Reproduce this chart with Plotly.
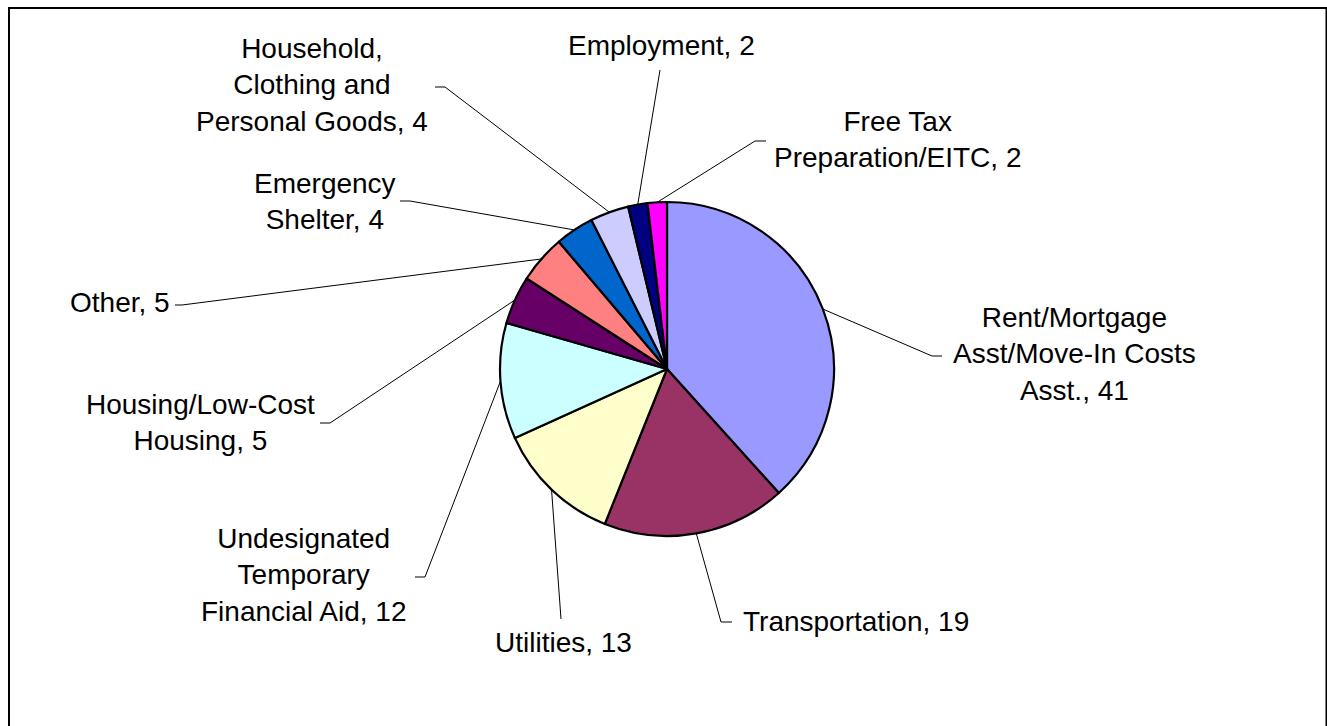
import math
import plotly.graph_objects as go

# ---------------- data ----------------
categories = [
    "Rent/Mortgage Asst/Move-In Costs Asst.",
    "Transportation",
    "Utilities",
    "Undesignated Temporary Financial Aid",
    "Housing/Low-Cost Housing",
    "Other",
    "Emergency Shelter",
    "Household, Clothing and Personal Goods",
    "Employment",
    "Free Tax Preparation/EITC",
]
values = [41, 19, 13, 12, 5, 5, 4, 4, 2, 2]
label_lines = [
    "Rent/Mortgage<br>Asst/Move-In Costs<br>Asst.",
    "Transportation",
    "Utilities",
    "Undesignated<br>Temporary<br>Financial Aid",
    "Housing/Low-Cost<br>Housing",
    "Other",
    "Emergency<br>Shelter",
    "Household,<br>Clothing and<br>Personal Goods",
    "Employment",
    "Free Tax<br>Preparation/EITC",
]
colors = ["#9999FF", "#993366", "#FFFFCC", "#CCFFFF", "#660066",
          "#FF8080", "#0066CC", "#CCCCFF", "#000080", "#FF00FF"]

# ---------------- layout constants (pixels) ----------------
W, H = 1327, 726
CX, CY, R = 667, 369, 167
label_pos = [(1074, 354), (856, 621), (563, 642), (303, 575), (200, 422),
             (120, 302), (325, 201), (312, 85), (661, 46), (897, 140)]
leader_elbow = [(932, 356), (721, 622), (561, 619), (425, 577), (330, 423),
                (182, 305), (410, 201), (445, 87), (660, 70), (755, 141)]
leader_stub = [(942, 356), (732, 622), None, (415, 577), (320, 423),
               (175, 305), (400, 201), (435, 87), None, (766, 141)]
FONT = "Liberation Sans, Arial, sans-serif"


def px(x):
    return x / W


def py(y):
    return 1 - y / H


fig = go.Figure(
    go.Pie(
        labels=categories,
        values=values,
        sort=False,
        direction="clockwise",
        rotation=0,
        marker=dict(colors=colors, line=dict(color="black", width=2.2)),
        textinfo="none",
        hoverinfo="label+value",
        showlegend=False,
        domain=dict(x=[px(CX - R), px(CX + R)], y=[py(CY + R), py(CY - R)]),
    )
)

shapes = []
annotations = []
total = sum(values)
cum = 0
for i, v in enumerate(values):
    ang = math.radians((cum + v / 2) / total * 360)
    cum += v
    ex = CX + R * math.sin(ang)
    ey = CY - R * math.cos(ang)
    bx, by = leader_elbow[i]
    shapes.append(dict(type="line", xref="paper", yref="paper",
                       x0=px(ex), y0=py(ey), x1=px(bx), y1=py(by),
                       line=dict(color="black", width=1)))
    if leader_stub[i] is not None:
        sx, sy = leader_stub[i]
        shapes.append(dict(type="line", xref="paper", yref="paper",
                           x0=px(bx), y0=py(by), x1=px(sx), y1=py(sy),
                           line=dict(color="black", width=1)))
    lx, ly = label_pos[i]
    annotations.append(dict(
        x=px(lx), y=py(ly), xref="paper", yref="paper",
        text=f"{label_lines[i]}, {v}", showarrow=False,
        xanchor="center", yanchor="middle", align="center",
        font=dict(family=FONT, size=28, color="black"),
    ))

# chart frame
shapes.append(dict(type="rect", xref="paper", yref="paper",
                   x0=px(9), y0=py(8), x1=px(1326.5), y1=-0.05,
                   line=dict(color="black", width=2), layer="above"))

fig.update_layout(
    width=W, height=H,
    margin=dict(l=0, r=0, t=0, b=0),
    paper_bgcolor="white",
    plot_bgcolor="white",
    shapes=shapes,
    annotations=annotations,
    font=dict(family=FONT),
)

fig.write_html(
    "out.html",
    config={"displayModeBar": False},
    post_script="document.body.style.margin='0';document.body.style.overflow='hidden';",
)
